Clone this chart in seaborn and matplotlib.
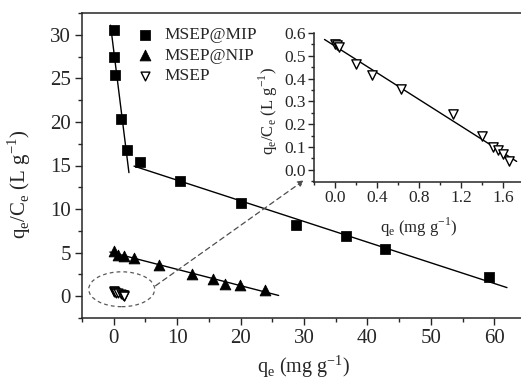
import numpy as np
import pandas as pd
import matplotlib
matplotlib.use("Agg")
import matplotlib.pyplot as plt
from matplotlib.patches import Ellipse
from matplotlib.ticker import MultipleLocator
import seaborn as sns

# ---------------- data ----------------
mip_qe = [0.05, 0.05, 0.2, 1.1, 2.1, 4.2, 10.4, 20.0, 28.7, 36.6, 42.7, 59.1]
mip_ratio = [30.5, 27.5, 25.4, 20.3, 16.8, 15.4, 13.2, 10.65, 8.2, 6.9, 5.4, 2.25]
nip_qe = [0.05, 0.68, 1.6, 3.2, 7.2, 12.3, 15.7, 17.5, 19.9, 23.9]
nip_ratio = [5.2, 4.75, 4.6, 4.4, 3.55, 2.6, 1.95, 1.45, 1.25, 0.72]
msep_qe = [0.0, 0.022, 0.038, 0.198, 0.357, 0.629, 1.123, 1.404, 1.505, 1.553, 1.601, 1.656]
msep_ratio = [0.553, 0.548, 0.538, 0.463, 0.414, 0.355, 0.244, 0.149, 0.102, 0.088, 0.069, 0.041]

labels = ["MSEP@MIP", "MSEP@NIP", "MSEP"]
x_ticks_main = [0, 10, 20, 30, 40, 50, 60]
y_ticks_main = [0, 5, 10, 15, 20, 25, 30]
x_ticks_inset = [0.0, 0.4, 0.8, 1.2, 1.6]
y_ticks_inset = [0.0, 0.1, 0.2, 0.3, 0.4, 0.5, 0.6]

# ---------------- style ----------------
sns.set_style("ticks")
plt.rcParams["font.family"] = ["Liberation Serif", "DejaVu Serif"]
plt.rcParams["mathtext.fontset"] = "custom"
plt.rcParams["mathtext.rm"] = "Liberation Serif"
plt.rcParams["axes.linewidth"] = 1.1

FS = 15
FS_LEG = 12.5
FS_IN = 12.5

fig = plt.figure(figsize=(5.21, 3.81), dpi=100)
ax = fig.add_axes([82 / 521, 63 / 381, (526 - 82) / 521, 305 / 381])

mip_df = pd.DataFrame({"qe": mip_qe, "r": mip_ratio})
nip_df = pd.DataFrame({"qe": nip_qe, "r": nip_ratio})
msep_df = pd.DataFrame({"qe": msep_qe, "r": msep_ratio})


def fit_line(df, lo, hi, xr, axis):
    sub = df[(df.qe >= lo) & (df.qe <= hi)]
    k, b = np.polyfit(sub.qe, sub.r, 1)
    xs = np.array(xr)
    sns.lineplot(x=xs, y=k * xs + b, ax=axis, color="black", lw=1.0)


fit_line(mip_df, 0, 3, [-0.5, 2.4], ax)
fit_line(mip_df, 3, 100, [3.2, 62.0], ax)
fit_line(nip_df, -1, 100, [-0.6, 26.0], ax)

sns.scatterplot(data=mip_df, x="qe", y="r", ax=ax, marker="s", s=45,
                color="black", edgecolor="black", label=labels[0], zorder=3)
sns.scatterplot(data=nip_df, x="qe", y="r", ax=ax, marker="^", s=60,
                color="black", edgecolor="black", label=labels[1], zorder=3)
sns.scatterplot(data=msep_df, x="qe", y="r", ax=ax, marker="v", s=40,
                facecolor="white", edgecolor="black", linewidth=1.0,
                label=labels[2], zorder=3)

ax.set_xlim(-5, 65)
ax.set_ylim(-2.5, 32.5)
ax.set_xticks(x_ticks_main)
ax.set_yticks(y_ticks_main)
ax.xaxis.set_minor_locator(MultipleLocator(5))
ax.yaxis.set_minor_locator(MultipleLocator(2.5))
ax.tick_params(axis="both", which="major", direction="out", length=5, width=1,
               labelsize=FS, pad=3)
ax.tick_params(axis="both", which="minor", direction="out", length=3, width=1)
ax.set_xlabel(r"q$_\mathregular{e}$ (mg g$^\mathregular{-1}$)", fontsize=14.5)
ax.set_ylabel(r"q$_\mathregular{e}$/C$_\mathregular{e}$ (L g$^\mathregular{-1}$)",
              fontsize=FS)
ax.xaxis.set_label_coords(0.5, -0.115)
ax.yaxis.set_label_coords(-0.11, 0.438)

leg = ax.legend(loc="upper left", bbox_to_anchor=(0.103, 0.977), frameon=False,
                fontsize=FS_LEG, handletextpad=0.5, labelspacing=0.25,
                borderaxespad=0.0, handlelength=1.2)

# dashed ellipse and arrow
ax.add_patch(Ellipse((1.26, 0.8), 10.4, 4.0, fill=False, edgecolor="0.35",
                     lw=0.9, linestyle=(0, (3, 2.5))))
ax.annotate("", xy=(30.0, 13.3), xytext=(6.6, 1.2),
            arrowprops=dict(arrowstyle="-|>", color="0.3", lw=0.9,
                            linestyle=(0, (4, 3)), mutation_scale=9,
                            shrinkA=0, shrinkB=0))

# ---------------- inset ----------------
ins = fig.add_axes([314 / 521, 199 / 381, (524 - 314) / 521, 149 / 381])
fit_line(msep_df, -1, 10, [-0.1, 1.73], ins)
sns.scatterplot(data=msep_df, x="qe", y="r", ax=ins, marker="v", s=45,
                facecolor="white", edgecolor="black", linewidth=1.0, zorder=3,
                legend=False)
ins.set_xlim(-0.2, 1.8)
ins.set_ylim(-0.053, 0.6)
ins.set_xticks(x_ticks_inset)
ins.set_yticks(y_ticks_inset)
ins.xaxis.set_minor_locator(MultipleLocator(0.2))
ins.yaxis.set_minor_locator(MultipleLocator(0.05))
ins.spines["top"].set_visible(False)
ins.spines["right"].set_visible(False)
ins.patch.set_alpha(0)
ins.tick_params(axis="both", which="major", direction="out", length=4, width=1,
                labelsize=FS_IN, pad=2)
ins.tick_params(axis="both", which="minor", direction="out", length=2.5, width=1)
ins.set_xlabel(r"q$_\mathregular{e}$ (mg g$^\mathregular{-1}$)", fontsize=12)
ins.set_ylabel(r"q$_\mathregular{e}$/C$_\mathregular{e}$ (L g$^\mathregular{-1}$)",
               fontsize=12)
ins.xaxis.set_label_coords(0.5, -0.228)
ins.yaxis.set_label_coords(-0.162, 0.477)

fig.savefig("out.png", dpi=100)
